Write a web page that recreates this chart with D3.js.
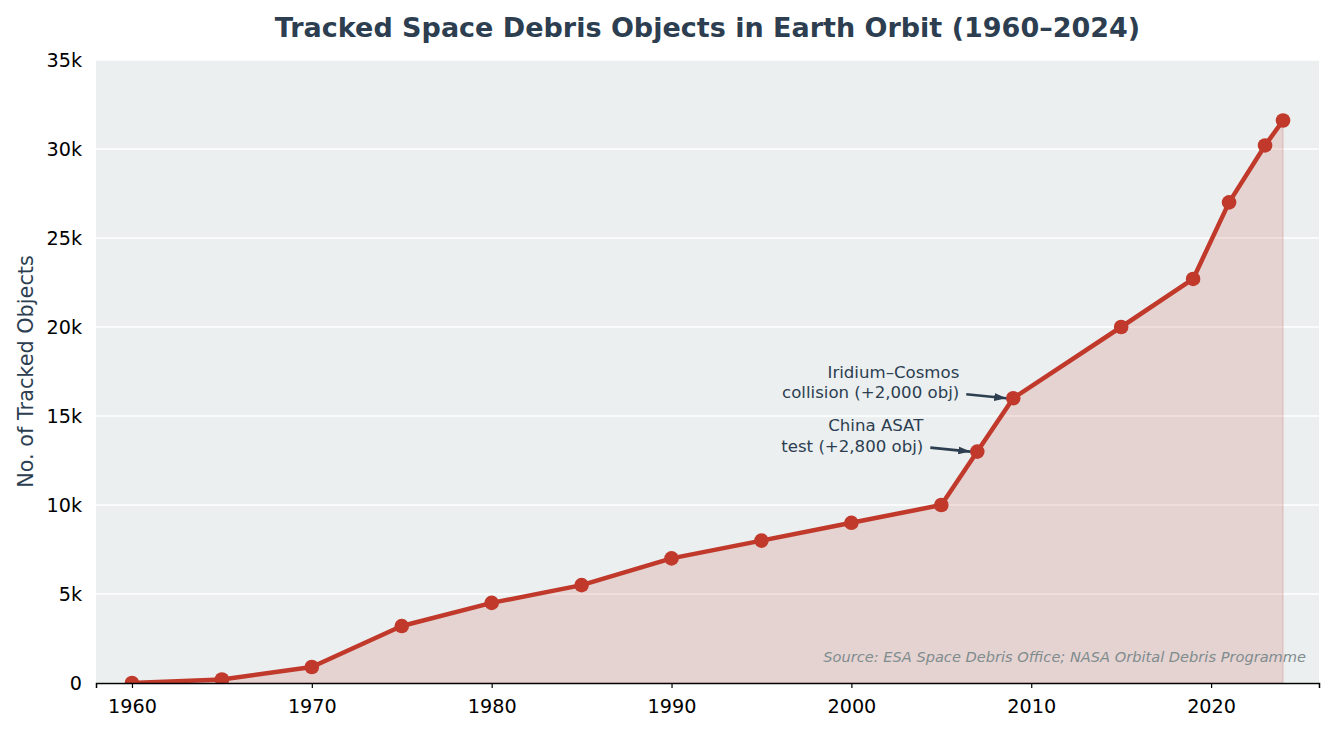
<!DOCTYPE html>
<html>
<head>
<meta charset="utf-8">
<script src="https://cdn.jsdelivr.net/npm/d3@7"></script>
<style>
  html, body { margin: 0; padding: 0; background: #fff; }
  text { font-family: "DejaVu Sans", sans-serif; }
</style>
</head>
<body>
<div id="viscontainer"></div>
<script>
const years = [1960, 1965, 1970, 1975, 1980, 1985, 1990, 1995, 2000, 2005, 2007, 2009, 2015, 2019, 2021, 2023, 2024];
const counts = [0, 200, 900, 3200, 4500, 5500, 7000, 8000, 9000, 10000, 13000, 16000, 20000, 22700, 27000, 30200, 31600];
const xTicks = [1960, 1970, 1980, 1990, 2000, 2010, 2020];
const yTicks = [0, 5000, 10000, 15000, 20000, 25000, 30000, 35000];
const noteYears = [2009, 2007];
const noteLines = [["Iridium–Cosmos", "collision (+2,000 obj)"], ["China ASAT", "test (+2,800 obj)"]];

const data = years.map((y, i) => ({ year: y, count: counts[i] }));

const width = 1333;
const height = 733;
const marginTop = 60;
const marginRight = 14;
const marginBottom = 50;
const marginLeft = 96;

const svg = d3.create("svg").attr("width", width).attr("height", height);
viscontainer.append(svg.node());

const xScale = d3.scaleLinear().domain([1958, 2026]).range([marginLeft, width - marginRight]);
const yScale = d3.scaleLinear().domain([0, 35000]).range([height - marginBottom, marginTop]);

const defs = svg.append("defs");
defs.append("clipPath").attr("id", "plotclip")
  .append("rect")
  .attr("x", marginLeft).attr("y", marginTop)
  .attr("width", width - marginRight - marginLeft)
  .attr("height", height - marginBottom - marginTop);

// plot background
svg.append("rect")
  .attr("x", marginLeft).attr("y", marginTop)
  .attr("width", width - marginRight - marginLeft)
  .attr("height", height - marginBottom - marginTop)
  .attr("fill", "#ebeff0");

// grid
svg.append("g")
  .selectAll("line")
  .data(yTicks)
  .join("line")
  .attr("x1", marginLeft).attr("x2", width - marginRight)
  .attr("y1", d => yScale(d)).attr("y2", d => yScale(d))
  .attr("stroke", "#fff").attr("stroke-width", 1.5);

const plot = svg.append("g").attr("clip-path", "url(#plotclip)");

// area fill
const area = d3.area().x(d => xScale(d.year)).y0(yScale(0)).y1(d => yScale(d.count));
plot.append("path")
  .datum(data)
  .attr("d", area)
  .attr("fill", "#c0392b").attr("fill-opacity", 0.15)
  .attr("stroke", "#c0392b").attr("stroke-opacity", 0.15).attr("stroke-width", 1.5);

// line
const line = d3.line().x(d => xScale(d.year)).y(d => yScale(d.count));
plot.append("path")
  .datum(data)
  .attr("d", line)
  .attr("fill", "none")
  .attr("stroke", "#c0392b").attr("stroke-width", 4.5)
  .attr("stroke-linejoin", "round");

plot.append("g")
  .selectAll("circle")
  .data(data)
  .join("circle")
  .attr("cx", d => xScale(d.year)).attr("cy", d => yScale(d.count))
  .attr("r", 7.3)
  .attr("fill", "#c0392b");

// axes
const xAxis = svg.append("g")
  .attr("transform", `translate(0, ${height - marginBottom})`)
  .call(d3.axisBottom(xScale).tickValues(xTicks).tickFormat(d3.format("d")).tickSize(5).tickPadding(11));
xAxis.select(".domain").attr("stroke", "#000").attr("stroke-width", 1.5);
xAxis.selectAll(".tick line").attr("stroke", "#000").attr("stroke-width", 1.2);
xAxis.selectAll("text").attr("font-size", 19.2).attr("fill", "#000").attr("font-family", "DejaVu Sans");

const yAxis = svg.append("g")
  .attr("transform", `translate(${marginLeft}, 0)`)
  .call(d3.axisLeft(yScale).tickValues(yTicks).tickFormat(d => d === 0 ? "0" : d / 1000 + "k").tickSize(0).tickPadding(14));
yAxis.select(".domain").remove();
yAxis.selectAll("text").attr("font-size", 19.2).attr("fill", "#000").attr("font-family", "DejaVu Sans");

// title
svg.append("text")
  .attr("x", (marginLeft + width - marginRight) / 2).attr("y", 37)
  .attr("text-anchor", "middle")
  .attr("font-size", 27).attr("font-weight", "bold")
  .attr("fill", "#2c3e50")
  .text("Tracked Space Debris Objects in Earth Orbit (1960–2024)");

// y label
svg.append("text")
  .attr("transform", `translate(33, ${(marginTop + height - marginBottom) / 2}) rotate(-90)`)
  .attr("text-anchor", "middle")
  .attr("font-size", 20.8)
  .attr("fill", "#2c3e50")
  .text("No. of Tracked Objects");

// annotations
defs.append("marker")
  .attr("id", "arr").attr("viewBox", "0 0 10 10")
  .attr("refX", 10).attr("refY", 5)
  .attr("markerWidth", 12).attr("markerHeight", 8)
  .attr("markerUnits", "userSpaceOnUse")
  .attr("orient", "auto")
  .attr("preserveAspectRatio", "none")
  .append("path").attr("d", "M0,0 L10,5 L0,10 Z").attr("fill", "#2c3e50");

noteYears.forEach((yr, i) => {
  const d = data.find(p => p.year === yr);
  const px = xScale(d.year), py = yScale(d.count);
  const tx = xScale(d.year - 3);
  const t = svg.append("text")
    .attr("text-anchor", "end")
    .attr("font-size", 16.6)
    .attr("fill", "#2c3e50");
  noteLines[i].forEach((s, j) => {
    t.append("tspan").attr("x", tx).attr("y", py - 20.5 + j * 20.5).text(s);
  });
  svg.append("line")
    .attr("x1", tx + 7).attr("y1", py - 4)
    .attr("x2", px - 7).attr("y2", py)
    .attr("stroke", "#2c3e50").attr("stroke-width", 2.6)
    .attr("marker-end", "url(#arr)");
});

// source
svg.append("text")
  .attr("x", width - marginRight - 13).attr("y", height - marginBottom - 21)
  .attr("text-anchor", "end")
  .attr("font-size", 14.6).attr("font-style", "italic")
  .attr("fill", "#7f8c8d")
  .text("Source: ESA Space Debris Office; NASA Orbital Debris Programme");
</script>
</body>
</html>
